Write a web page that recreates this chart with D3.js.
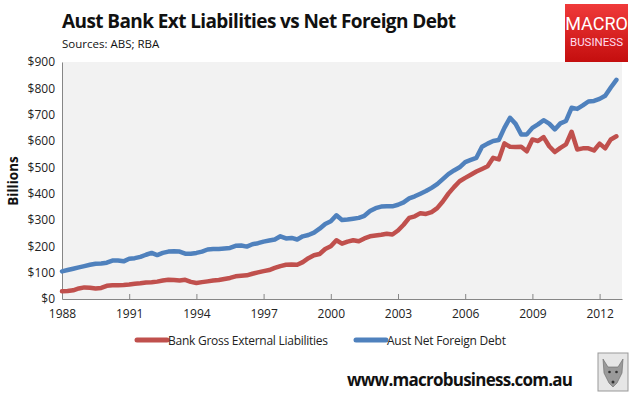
<!DOCTYPE html>
<html>
<head>
<meta charset="utf-8">
<script src="https://cdnjs.cloudflare.com/ajax/libs/d3/7.8.5/d3.min.js"></script>
<style>
  body { margin: 0; background: #fff; }
  svg { display: block; font-family: "Open Sans", sans-serif; }
</style>
</head>
<body>
<div id="chart"></div>
<script>
var width = 635,
    height = 395,
    margin = {top: 62, right: 13, bottom: 96, left: 62};

// quarterly, starting 1988 Q1
var startYear = 1988;
var bankLiabilities = [
  29, 30, 33, 40, 44, 43, 40, 42, 50, 52, 52, 53, 55, 58, 60, 63,
  64, 66, 70, 73, 72, 70, 73, 65, 61, 64, 67, 70, 72, 76, 80, 86,
  88, 90, 96, 101, 106, 110, 118, 125, 130, 131, 130, 140, 155, 166, 171, 190,
  200, 223, 210, 218, 223, 219, 230, 238, 241, 244, 248, 245, 260, 282, 308, 314,
  326, 323, 330, 345, 370, 400, 425, 447, 460, 472, 484, 494, 504, 536, 530, 591,
  578, 577, 578, 561, 606, 600, 615, 580, 558, 574, 587, 635, 568, 572, 572, 564,
  590, 572, 606, 618
];
var netForeignDebt = [
  105, 110, 115, 120, 125, 130, 134, 135, 138, 146, 146, 143, 153, 155, 160, 168,
  175, 167, 175, 180, 181, 180, 172, 172, 175, 180, 188, 190, 190, 192, 194, 202,
  203, 199, 208, 212, 218, 222, 226, 238, 230, 232, 226, 238, 243, 252, 267, 285,
  295, 318, 300, 302, 305, 308, 316, 334, 345, 351, 352, 352, 358, 367, 382, 390,
  400, 410, 422, 436, 455, 474, 488, 500, 520, 528, 536, 578, 590, 600, 604, 650,
  688, 665, 625, 625, 650, 663, 679, 666, 644, 667, 676, 726, 722, 735, 750, 752,
  760, 772, 803, 832
];
var yearTicks = [1988, 1991, 1994, 1997, 2000, 2003, 2006, 2009, 2012];
var valueTicks = [0, 100, 200, 300, 400, 500, 600, 700, 800, 900];
var seriesNames = ["Bank Gross External Liabilities", "Aust Net Foreign Debt"];
var seriesColors = ["#c0504d", "#4f81bd"];

var svg = d3.select("#chart")
    .append("svg")
    .attr("width", width)
    .attr("height", height);

var x = d3.scaleLinear()
    .domain([1988, 2013])
    .range([margin.left, width - margin.right]);

var y = d3.scaleLinear()
    .domain([0, 900])
    .range([height - margin.bottom, margin.top]);

// title and source
svg.append("text")
    .attr("x", 62)
    .attr("y", 28)
    .attr("font-size", 19)
    .attr("font-weight", "bold")
    .attr("fill", "#111")
    .attr("textLength", 394)
    .text("Aust Bank Ext Liabilities vs Net Foreign Debt");

svg.append("text")
    .attr("x", 62)
    .attr("y", 48)
    .attr("font-size", 11.5)
    .attr("fill", "#111")
    .text("Sources: ABS; RBA");

// logo
var grad = svg.append("defs").append("linearGradient")
    .attr("id", "logoGrad")
    .attr("x1", 0).attr("y1", 0).attr("x2", 0).attr("y2", 1);
grad.append("stop").attr("offset", "0%").attr("stop-color", "#f03a3a");
grad.append("stop").attr("offset", "100%").attr("stop-color", "#c40e0e");

svg.append("rect")
    .attr("x", 565).attr("y", 4)
    .attr("width", 63).attr("height", 58)
    .attr("fill", "url(#logoGrad)");
svg.append("text")
    .attr("x", 596.5).attr("y", 30)
    .attr("text-anchor", "middle")
    .attr("font-family", "Roboto, sans-serif")
    .attr("font-size", 18)
    .attr("fill", "#fff")
    .text("MACRO");
svg.append("text")
    .attr("x", 596.5).attr("y", 46)
    .attr("text-anchor", "middle")
    .attr("font-family", "Roboto, sans-serif")
    .attr("font-size", 11.5)
    .attr("fill", "#fde")
    .text("BUSINESS");

// plot area
svg.append("rect")
    .attr("x", x.range()[0])
    .attr("y", y.range()[1])
    .attr("width", x.range()[1] - x.range()[0])
    .attr("height", y.range()[0] - y.range()[1])
    .attr("fill", "#f2f2f2");

var yAxis = svg.append("g")
    .attr("transform", "translate(" + margin.left + ",0)")
    .call(d3.axisLeft(y).tickValues(valueTicks).tickSize(0).tickPadding(7)
        .tickFormat(function(d) { return "$" + d; }));
yAxis.select(".domain").attr("stroke", "#868686");
yAxis.selectAll("text").attr("font-size", 12).attr("fill", "#222")
    .attr("font-family", "Open Sans, sans-serif");

var xAxis = svg.append("g")
    .attr("transform", "translate(0," + (height - margin.bottom) + ")")
    .call(d3.axisBottom(x).tickValues(yearTicks).tickSizeInner(-5).tickSizeOuter(0)
        .tickPadding(10).tickFormat(d3.format("d")));
xAxis.select(".domain").attr("stroke", "#868686");
xAxis.selectAll(".tick line").attr("stroke", "#868686");
xAxis.selectAll("text").attr("font-size", 12).attr("fill", "#222")
    .attr("font-family", "Open Sans, sans-serif");

svg.append("text")
    .attr("transform", "translate(18,181) rotate(-90)")
    .attr("text-anchor", "middle")
    .attr("font-size", 13.5)
    .attr("font-weight", "bold")
    .attr("fill", "#111")
    .text("Billions");

// lines
var line = d3.line()
    .x(function(d, i) { return x(startYear + i / 4); })
    .y(function(d) { return y(d); });

[bankLiabilities, netForeignDebt].forEach(function(s, k) {
    svg.append("path")
        .datum(s)
        .attr("d", line)
        .attr("fill", "none")
        .attr("stroke", seriesColors[k])
        .attr("stroke-width", 4.5)
        .attr("stroke-linejoin", "round")
        .attr("stroke-linecap", "round");
});

// legend
var legendX = [137, 356];
var legendLen = [160, 119];
seriesNames.forEach(function(name, k) {
    svg.append("line")
        .attr("x1", legendX[k]).attr("x2", legendX[k] + 30)
        .attr("y1", 340).attr("y2", 340)
        .attr("stroke", seriesColors[k])
        .attr("stroke-width", 5)
        .attr("stroke-linecap", "round");
    svg.append("text")
        .attr("x", legendX[k] + 31)
        .attr("y", 344.5)
        .attr("font-size", 12)
        .attr("fill", "#222")
        .attr("textLength", legendLen[k])
        .text(name);
});

// footer
svg.append("text")
    .attr("x", 347)
    .attr("y", 386)
    .attr("font-size", 17)
    .attr("font-weight", "bold")
    .attr("fill", "#111")
    .attr("textLength", 226)
    .text("www.macrobusiness.com.au");

var wolf = svg.append("g").attr("transform", "translate(598,353)");
wolf.append("rect")
    .attr("width", 30).attr("height", 38)
    .attr("fill", "#e6e6e6")
    .attr("stroke", "#999").attr("stroke-width", 1);
wolf.append("path")
    .attr("d", "M5,6 L10,14 L20,14 L25,6 L24,20 L19,30 L15,34 L11,30 L6,20 Z")
    .attr("fill", "#9a9a9a").attr("stroke", "#666").attr("stroke-width", 0.6);
wolf.append("circle").attr("cx", 11.5).attr("cy", 19).attr("r", 1.3).attr("fill", "#333");
wolf.append("circle").attr("cx", 18.5).attr("cy", 19).attr("r", 1.3).attr("fill", "#333");
wolf.append("circle").attr("cx", 15).attr("cy", 29).attr("r", 1.5).attr("fill", "#333");
</script>
</body>
</html>
